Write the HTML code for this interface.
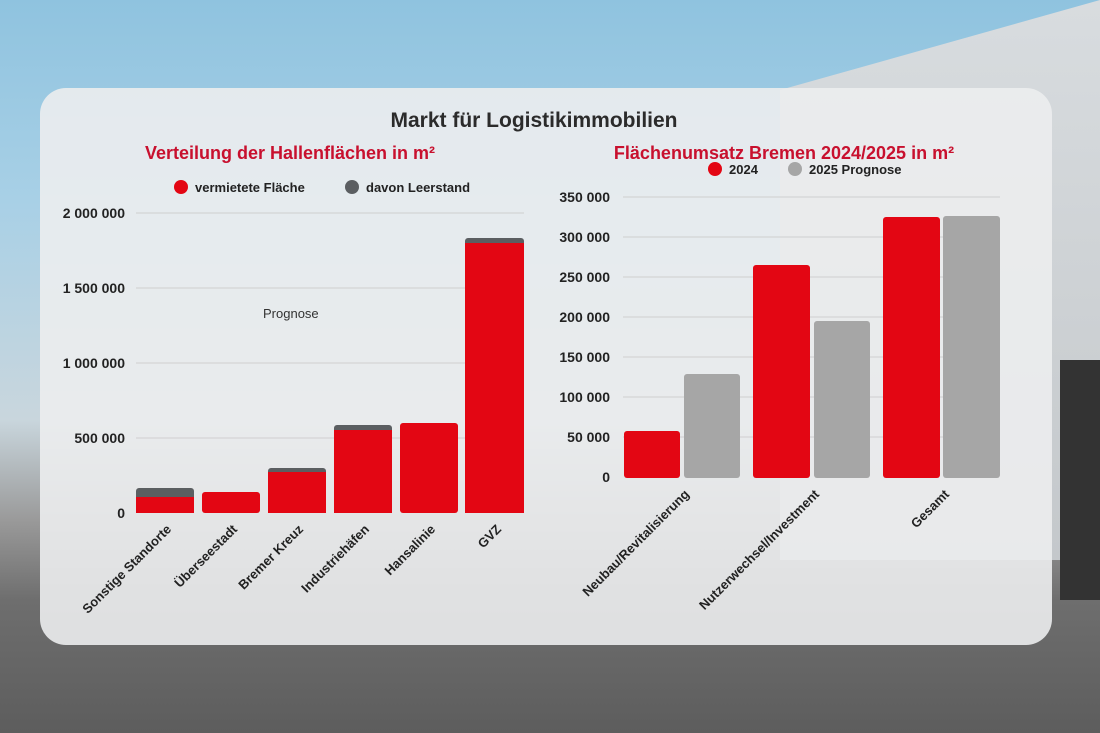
<!DOCTYPE html>
<html><head><meta charset="utf-8"><style>
body{margin:0;width:1100px;height:733px;overflow:hidden;font-family:"Liberation Sans","DejaVu Sans",sans-serif;position:relative;
background:linear-gradient(180deg,#8fc3df 0px,#a8d0e6 200px,#c9d6dd 420px,#9a9a9a 520px,#6e6e6e 600px,#5d5d5d 733px);}
.bld{position:absolute;left:780px;top:0;width:320px;height:560px;background:linear-gradient(180deg,#d8dcdf,#c4c8cb);clip-path:polygon(0 90px,100% 0,100% 100%,0 100%);}
.bld2{position:absolute;left:1060px;top:360px;width:40px;height:240px;background:#333;}
.panel{position:absolute;left:40px;top:88px;width:1012px;height:557px;border-radius:26px;background:rgba(236,237,238,0.9);}
svg{position:absolute;left:0;top:0}
text{font-family:"Liberation Sans","DejaVu Sans",sans-serif}
</style></head><body>
<div class="bld"></div><div class="bld2"></div>
<div class="panel"></div>
<svg width="1100" height="733">
<text x="534" y="127" text-anchor="middle" font-size="21" font-weight="bold" fill="#2b2b2b">Markt für Logistikimmobilien</text>
<text x="290" y="159" text-anchor="middle" font-size="18" font-weight="bold" fill="#c8102e">Verteilung der Hallenflächen in m²</text>
<text x="784" y="159" text-anchor="middle" font-size="18" font-weight="bold" fill="#c8102e">Flächenumsatz Bremen 2024/2025 in m²</text>
<circle cx="181" cy="187" r="7" fill="#e30613"/><text x="195" y="192" font-size="13" font-weight="bold" fill="#222">vermietete Fläche</text>
<circle cx="352" cy="187" r="7" fill="#5b5e61"/><text x="366" y="192" font-size="13" font-weight="bold" fill="#222">davon Leerstand</text>
<circle cx="715" cy="169" r="7" fill="#e30613"/><text x="729" y="174" font-size="13" font-weight="bold" fill="#222">2024</text>
<circle cx="795" cy="169" r="7" fill="#a6a6a6"/><text x="809" y="174" font-size="13" font-weight="bold" fill="#222">2025 Prognose</text>
<g stroke="#cfcfcf" stroke-width="1">
<line x1="136" x2="524" y1="213" y2="213"/><line x1="136" x2="524" y1="288" y2="288"/><line x1="136" x2="524" y1="363" y2="363"/><line x1="136" x2="524" y1="438" y2="438"/>
<line x1="623" x2="1000" y1="197" y2="197"/><line x1="623" x2="1000" y1="237" y2="237"/><line x1="623" x2="1000" y1="277" y2="277"/><line x1="623" x2="1000" y1="317" y2="317"/><line x1="623" x2="1000" y1="357" y2="357"/><line x1="623" x2="1000" y1="397" y2="397"/><line x1="623" x2="1000" y1="437" y2="437"/>
</g>
<g font-size="14" font-weight="bold" fill="#222" text-anchor="end">
<text x="125" y="218">2 000 000</text><text x="125" y="293">1 500 000</text><text x="125" y="368">1 000 000</text><text x="125" y="443">500 000</text><text x="125" y="518">0</text>
<text x="610" y="202">350 000</text><text x="610" y="242">300 000</text><text x="610" y="282">250 000</text><text x="610" y="322">200 000</text><text x="610" y="362">150 000</text><text x="610" y="402">100 000</text><text x="610" y="442">50 000</text><text x="610" y="482">0</text>
</g>
<text x="263" y="318" font-size="13" fill="#333">Prognose</text>
<g fill="#5b5e61">
<rect x="136" y="488" width="58" height="25" rx="3"/><rect x="268" y="468" width="58" height="45" rx="3"/><rect x="334" y="425" width="58" height="88" rx="3"/><rect x="465" y="238" width="59" height="275" rx="3"/>
</g>
<g fill="#e30613">
<rect x="136" y="497" width="58" height="16"/><rect x="202" y="492" width="58" height="21" rx="3"/><rect x="268" y="472" width="58" height="41"/><rect x="334" y="430" width="58" height="83"/><rect x="400" y="423" width="58" height="90" rx="3"/><rect x="465" y="243" width="59" height="270"/>
<rect x="624" y="431" width="56" height="47" rx="3"/><rect x="753" y="265" width="57" height="213" rx="3"/><rect x="883" y="217" width="57" height="261" rx="3"/>
</g>
<g fill="#a6a6a6">
<rect x="684" y="374" width="56" height="104" rx="3"/><rect x="814" y="321" width="56" height="157" rx="3"/><rect x="943" y="216" width="57" height="262" rx="3"/>
</g>
<g font-size="13" font-weight="bold" fill="#222" text-anchor="end">
<text transform="translate(172,530) rotate(-45)">Sonstige Standorte</text>
<text transform="translate(238,530) rotate(-45)">Überseestadt</text>
<text transform="translate(304,530) rotate(-45)">Bremer Kreuz</text>
<text transform="translate(370,530) rotate(-45)">Industriehäfen</text>
<text transform="translate(436,530) rotate(-45)">Hansalinie</text>
<text transform="translate(502,530) rotate(-45)">GVZ</text>
<text transform="translate(690,495) rotate(-45)">Neubau/Revitalisierung</text>
<text transform="translate(820,495) rotate(-45)">Nutzerwechsel/Investment</text>
<text transform="translate(950,495) rotate(-45)">Gesamt</text>
</g>
</svg>
</body></html>
